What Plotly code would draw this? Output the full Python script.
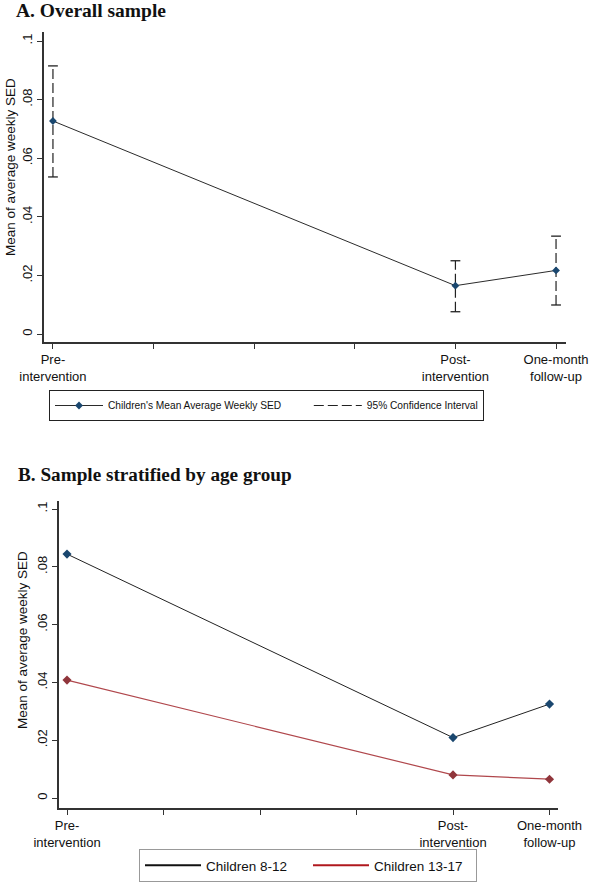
import plotly.graph_objects as go

# ---------------- data ----------------
period_labels = ["Pre-<br>intervention", "Post-<br>intervention", "One-month<br>follow-up"]
period_x = [0, 4, 5]
week_ticks = [0, 1, 2, 3, 4, 5]

overall_mean = [0.0727, 0.0165, 0.0217]
overall_ci_low = [0.0536, 0.0076, 0.0099]
overall_ci_high = [0.0915, 0.0250, 0.0334]

age_8_12 = [0.0844, 0.0209, 0.0325]
age_13_17 = [0.0408, 0.0080, 0.0065]

y_tickvals = [0, 0.02, 0.04, 0.06, 0.08, 0.1]
y_ticktext = ["0", ".02", ".04", ".06", ".08", ".1"]

series_names = ["Children's Mean Average Weekly SED", "95% Confidence Interval",
                "Children 8-12", "Children 13-17"]
y_title = "Mean of average weekly SED"

NAVY = "#1a476f"
MAROON = "#90353b"
AX = "#333333"
FONT = "Liberation Sans, Arial, sans-serif"
SERIF = "Liberation Serif, Times New Roman, serif"
PAD = "\u00a0" * 8  # spacing after first legend entry

fig = go.Figure()

# ---------- Panel A ----------
ci_x, ci_y = [], []
for xv, lo, hi in zip(period_x, overall_ci_low, overall_ci_high):
    ci_x += [xv, xv, None]
    ci_y += [lo, hi, None]
fig.add_trace(go.Scatter(x=ci_x, y=ci_y, mode="lines", xaxis="x", yaxis="y",
                         line=dict(color="#222222", width=1.2, dash="10px,4px"),
                         showlegend=False, hoverinfo="skip"))
cap_x, cap_y = [], []
for xv, lo, hi in zip(period_x, overall_ci_low, overall_ci_high):
    cap_x += [xv, xv]
    cap_y += [lo, hi]
fig.add_trace(go.Scatter(x=cap_x, y=cap_y, mode="markers", xaxis="x", yaxis="y",
                         marker=dict(symbol="line-ew", size=7,
                                     line=dict(color="#222222", width=1.3)),
                         showlegend=False, hoverinfo="skip"))
fig.add_trace(go.Scatter(x=period_x, y=overall_mean, mode="lines+markers",
                         xaxis="x", yaxis="y", name=series_names[0] + PAD,
                         line=dict(color="#2b2b2b", width=1),
                         marker=dict(symbol="diamond", size=6, color=NAVY),
                         legend="legend"))
fig.add_trace(go.Scatter(x=[None], y=[None], mode="lines", xaxis="x", yaxis="y",
                         name=series_names[1],
                         line=dict(color="#222222", width=1.2, dash="10px,4px"),
                         legend="legend"))

# ---------- Panel B ----------
fig.add_trace(go.Scatter(x=period_x, y=age_8_12, mode="lines+markers",
                         xaxis="x2", yaxis="y2", showlegend=False,
                         line=dict(color="#222222", width=1),
                         marker=dict(symbol="diamond", size=7, color=NAVY)))
fig.add_trace(go.Scatter(x=period_x, y=age_13_17, mode="lines+markers",
                         xaxis="x2", yaxis="y2", showlegend=False,
                         line=dict(color="#b0474c", width=1.2),
                         marker=dict(symbol="diamond", size=7, color=MAROON)))
fig.add_trace(go.Scatter(x=[None], y=[None], mode="lines", xaxis="x2", yaxis="y2",
                         name=series_names[2], line=dict(color="#111111", width=2),
                         legend="legend2"))
fig.add_trace(go.Scatter(x=[None], y=[None], mode="lines", xaxis="x2", yaxis="y2",
                         name=series_names[3], line=dict(color="#b0181e", width=2),
                         legend="legend2"))

W, H = 594, 885

def xax(domain, rng, anchor):
    return dict(domain=domain, range=rng, tickvals=week_ticks, anchor=anchor,
                ticktext=[period_labels[period_x.index(t)] if t in period_x else ""
                          for t in week_ticks],
                showline=True, linecolor=AX, linewidth=1.5, ticks="outside",
                ticklen=5, tickcolor=AX, tickwidth=1.3, showgrid=False, zeroline=False,
                automargin=False, fixedrange=True,
                tickfont=dict(family=FONT, size=13, color="#111111"))

def yax(domain, rng, anchor):
    return dict(domain=domain, range=rng, tickvals=y_tickvals, ticktext=y_ticktext,
                tickangle=-90, showline=True, linecolor=AX, linewidth=1.5,
                ticks="outside", ticklen=5, tickcolor=AX, tickwidth=1.3,
                showgrid=False, zeroline=False, anchor=anchor, automargin=False,
                fixedrange=True,
                tickfont=dict(family=FONT, size=13, color="#111111"))

fig.update_layout(
    width=W, height=H,
    margin=dict(l=0, r=0, t=0, b=0, autoexpand=False),
    paper_bgcolor="white", plot_bgcolor="white",
    xaxis=xax([44 / W, 566 / W], [-0.089, 5.099], "y"),
    yaxis=yax([1 - 342 / H, 1 - 32 / H], [-0.00273, 0.10307], "x"),
    xaxis2=xax([59 / W, 558 / W], [-0.083, 5.088], "y2"),
    yaxis2=yax([1 - 808 / H, 1 - 501 / H], [-0.00346, 0.10277], "x2"),
    legend=dict(orientation="h", x=49 / W, y=1 - 390 / H, xanchor="left", yanchor="top",
                bordercolor="#222222", borderwidth=1, bgcolor="white",
                font=dict(family=FONT, size=10.2, color="#111111"),
                itemwidth=48),
    legend2=dict(orientation="h", x=139 / W, y=1 - 849 / H, xanchor="left", yanchor="top",
                 bordercolor="#999999", borderwidth=1, bgcolor="white",
                 font=dict(family=FONT, size=13.5, color="#111111"),
                 itemwidth=56, entrywidth=97),
    annotations=[
        dict(text="<b>A. Overall sample</b>", x=14 / W, y=1 - 10.5 / H, xref="paper",
             yref="paper", xanchor="left", yanchor="middle", showarrow=False,
             font=dict(family=SERIF, size=19.5, color="#111111")),
        dict(text="<b>B. Sample stratified by age group</b>", x=16 / W, y=1 - 474.5 / H,
             xref="paper", yref="paper", xanchor="left", yanchor="middle",
             showarrow=False, font=dict(family=SERIF, size=19.2, color="#111111")),
        dict(text=y_title, textangle=-90, x=10 / W, y=1 - 167 / H, xref="paper",
             yref="paper", xanchor="center", yanchor="middle", showarrow=False,
             font=dict(family=FONT, size=13.5, color="#111111")),
        dict(text=y_title, textangle=-90, x=22 / W, y=1 - 640 / H, xref="paper",
             yref="paper", xanchor="center", yanchor="middle", showarrow=False,
             font=dict(family=FONT, size=13.5, color="#111111")),
    ],
)

fig.write_html("out.html",
               config={"displayModeBar": False},
               post_script="document.body.style.margin='0px';"
                           "document.body.style.overflow='hidden';")
